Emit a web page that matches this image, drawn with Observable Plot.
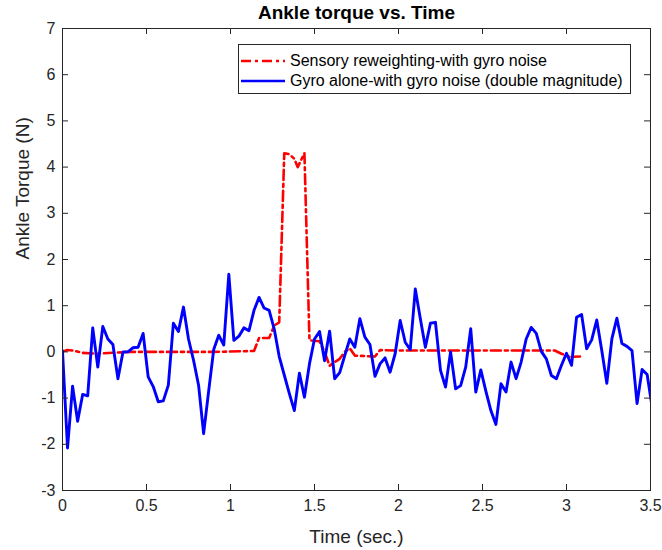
<!DOCTYPE html>
<html>
<head>
<meta charset="utf-8">
<script src="https://cdn.jsdelivr.net/npm/d3@7"></script>
<script src="https://cdn.jsdelivr.net/npm/@observablehq/plot@0.6"></script>
<style>
  body { margin: 0; background: #fff; }
  #chart { position: relative; width: 662px; height: 550px; font-family: "Liberation Sans", Arial, sans-serif; }
  .legend { position: absolute; left: 238px; top: 44px; width: 393px; height: 50px; box-sizing: border-box;
            border: 1px solid #262626; background: #fff; font-size: 16px; color: #000; }
  .legend .row { position: absolute; left: 2px; height: 20px; display: flex; align-items: center; white-space: nowrap; }
  .legend svg { margin-right: 5px; }
</style>
</head>
<body>
<div id="chart"></div>
<script>
// Ankle torque traces, sampled every 0.03 s
const title = "Ankle torque vs. Time";
const xLabel = "Time (sec.)";
const yLabel = "Ankle Torque (N)";
const seriesNames = ["Sensory reweighting-with gyro noise", "Gyro alone-with gyro noise (double magnitude)"];

const xTicks = [0, 0.5, 1, 1.5, 2, 2.5, 3, 3.5];
const yTicks = [-3, -2, -1, 0, 1, 2, 3, 4, 5, 6, 7];

const sampleStep = 0.03;

// Gyro alone (double-magnitude gyro noise), one value per sample
const gyroTorque = [
  0.02, -2.08, -0.74, -1.50, -0.92, -0.95, 0.52, -0.33, 0.55, 0.28,
  0.16, -0.58, 0.00, 0.00, 0.09, 0.10, 0.40, -0.54, -0.75, -1.08,
  -1.06, -0.72, 0.62, 0.44, 0.97, 0.28, -0.18, -0.72, -1.77, -0.85,
  0.05, 0.36, 0.15, 1.68, 0.25, 0.34, 0.52, 0.46, 0.90, 1.18,
  0.95, 0.90, 0.50, -0.10, -0.50, -0.90, -1.27, -0.46, -0.98, -0.26,
  0.28, 0.44, -0.19, 0.45, -0.58, -0.45, -0.08, 0.28, 0.10, 0.72,
  0.32, 0.16, -0.53, -0.26, -0.13, -0.44, -0.04, 0.68, 0.21, 0.05,
  1.36, 0.72, 0.10, 0.62, 0.64, -0.40, -0.76, 0.00, -0.80, -0.73,
  -0.33, 0.50, -0.87, -0.39, -0.85, -1.27, -1.57, -0.69, -0.87, -0.22,
  -0.58, -0.22, 0.28, 0.53, 0.40, 0.01, -0.15, -0.51, -0.58, -0.29,
  -0.03, -0.29, 0.75, 0.81, 0.07, 0.26, 0.69, 0.03, -0.68, 0.28,
  0.73, 0.18, 0.12, 0.03, -1.12, -0.38, -0.49, -1.20
];

// Sensory reweighting trace: times and torques
const reweightTime = [
  0, 0.03, 0.06, 0.12, 0.20, 0.30, 0.40, 0.60, 0.90, 1.14,
  1.17, 1.23, 1.26, 1.29, 1.32, 1.35, 1.38, 1.40, 1.44, 1.47,
  1.53, 1.56, 1.59, 1.62, 1.65, 1.68, 1.71, 1.74, 1.86, 1.89,
  2.00, 2.50, 2.93, 2.97, 3.02, 3.08
];
const reweightTorque = [
  0.01, 0.04, 0.03, -0.02, -0.04, -0.02, 0.00, 0.00, 0.00, 0.02,
  0.30, 0.30, 0.57, 0.64, 4.30, 4.28, 4.18, 4.00, 4.30, 0.25,
  0.23, 0.00, -0.30, -0.22, -0.15, 0.00, 0.08, -0.08, -0.10, 0.04,
  0.03, 0.03, 0.03, -0.04, -0.11, -0.10
];

const gyroData = gyroTorque.map((v, i) => ({t: i * sampleStep, v}));
const reweightData = reweightTime.map((t, i) => ({t, v: reweightTorque[i]}));

const W = 662, H = 550, mL = 62, mR = 12, mT = 28, mB = 60;
const frameW = W - mL - mR, frameH = H - mT - mB;
const tickLen = 6;
const axisColor = "#262626";
const redColor = "#ff0000", blueColor = "#0000ff";
const redDash = "10,4,3,4";

const chart = Plot.plot({
  width: W,
  height: H,
  marginLeft: mL,
  marginRight: mR,
  marginTop: mT,
  marginBottom: mB,
  style: {fontFamily: "'Liberation Sans', Arial, sans-serif", fontSize: "16px", color: axisColor, background: "white", overflow: "visible"},
  x: {domain: [0, 3.5], ticks: xTicks, tickFormat: d => String(d), tickSize: 0, tickPadding: 9, label: null},
  y: {domain: [-3, 7], ticks: yTicks, tickFormat: d => String(d), tickSize: 0, tickPadding: 7, label: null},
  marks: [
    Plot.line(reweightData, {x: "t", y: "v", stroke: redColor, strokeWidth: 2.6, strokeDasharray: redDash, clip: true}),
    Plot.line(gyroData, {x: "t", y: "v", stroke: blueColor, strokeWidth: 2.9, clip: true}),
    Plot.frame({stroke: axisColor, strokeWidth: 1}),
    // inward ticks on all four sides of the box
    Plot.tickX(xTicks, {x: d => d, stroke: axisColor, insetTop: frameH - tickLen}),
    Plot.tickX(xTicks, {x: d => d, stroke: axisColor, insetBottom: frameH - tickLen}),
    Plot.tickY(yTicks, {y: d => d, stroke: axisColor, insetRight: frameW - tickLen}),
    Plot.tickY(yTicks, {y: d => d, stroke: axisColor, insetLeft: frameW - tickLen}),
    Plot.text([title], {text: d => d, frameAnchor: "top", lineAnchor: "middle", dy: -16, fontSize: 19, fontWeight: "bold", fill: "#000"}),
    Plot.text([xLabel], {text: d => d, frameAnchor: "bottom", lineAnchor: "middle", dy: 46, fontSize: 19, fill: axisColor}),
    Plot.text([yLabel], {text: d => d, frameAnchor: "left", lineAnchor: "middle", rotate: -90, dx: -40, fontSize: 19, fill: axisColor})
  ]
});

const root = document.getElementById("chart");
root.appendChild(chart);

// Legend box in the upper right of the axes
const legend = document.createElement("div");
legend.className = "legend";
const rows = [
  {name: seriesNames[0], color: redColor, dash: redDash, top: 6},
  {name: seriesNames[1], color: blueColor, dash: null, top: 26}
];
for (const r of rows) {
  const row = document.createElement("div");
  row.className = "row";
  row.style.top = r.top + "px";
  row.innerHTML =
    `<svg width="44" height="20"><line x1="0" y1="10" x2="44" y2="10" stroke="${r.color}" stroke-width="2.6"` +
    (r.dash ? ` stroke-dasharray="${r.dash}"` : "") + `/></svg><span>${r.name}</span>`;
  legend.appendChild(row);
}
root.appendChild(legend);
</script>
</body>
</html>
